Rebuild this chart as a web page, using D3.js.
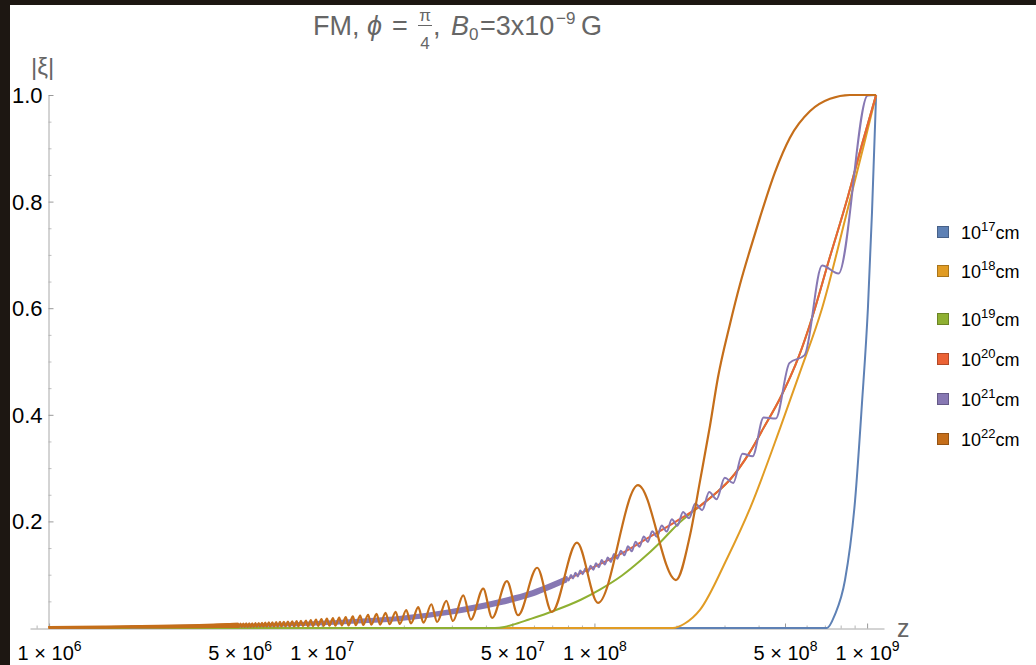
<!DOCTYPE html>
<html><head><meta charset="utf-8">
<script src="https://cdn.jsdelivr.net/npm/d3@7"></script>
<style>html,body{margin:0;padding:0;background:#1d1712;} svg{display:block;font-family:"Liberation Sans",Arial,Helvetica,sans-serif;}</style>
</head><body><svg id="chart" width="1036" height="665"></svg>
<script>
// ---------------- DATA (z given as log10 z, |xi| values) ----------------
const seriesNames = ["17", "18", "19", "20", "21", "22"]; // 10^n cm
const seriesColors = ["#5E81B5", "#E19C24", "#8FB032", "#EB6235", "#8778B3", "#C56E1A"];

const logZ17 = [6.0, 8.853, 8.882, 8.919, 8.956, 8.981, 9.003, 9.018, 9.033];
const xi17   = [0, 0, 0.025, 0.09, 0.24, 0.42, 0.60, 0.78, 1.0];

const logZ18 = [6.0, 8.288, 8.33, 8.387, 8.486, 8.571, 8.681, 8.754, 8.835, 8.926, 8.99, 9.033];
const xi18   = [0, 0, 0.008, 0.034, 0.13, 0.225, 0.375, 0.48, 0.60, 0.78, 0.91, 1.0];

const logZ19 = [6.0, 7.635, 7.67, 7.70, 7.76, 7.85, 7.95, 8.02, 8.10, 8.17, 8.24, 8.30, 8.39, 8.45, 8.50, 8.57, 8.62, 8.68, 8.75, 8.80, 8.86, 8.93, 8.98, 9.033];
const xi19   = [0, 0, 0.002, 0.006, 0.016, 0.032, 0.053, 0.072, 0.098, 0.127, 0.160, 0.192, 0.23, 0.255, 0.28, 0.33, 0.375, 0.43, 0.51, 0.585, 0.69, 0.81, 0.905, 1.0];

const logZ20 = [6.0, 6.37, 6.55, 6.74, 6.92, 7.10, 7.29, 7.47, 7.65, 7.76, 7.87, 8.02, 8.10, 8.20, 8.30, 8.39, 8.45, 8.50, 8.57, 8.62, 8.68, 8.75, 8.80, 8.86, 8.93, 8.98, 9.033];
const xi20   = [0.001, 0.0022, 0.0033, 0.005, 0.0075, 0.012, 0.018, 0.030, 0.048, 0.063, 0.085, 0.12, 0.14, 0.17, 0.20, 0.23, 0.255, 0.28, 0.33, 0.375, 0.43, 0.51, 0.585, 0.69, 0.81, 0.905, 1.0];

const logZ21 = [6.0, 6.37, 6.55, 6.74, 6.92, 7.10, 7.29, 7.47, 7.65, 7.76, 7.87,
  7.897, 7.905, 7.914, 7.922, 7.930, 7.939, 7.948, 7.957, 7.967, 7.976, 7.986, 7.996, 8.006, 8.016,
  8.027, 8.038, 8.049, 8.060, 8.072, 8.084, 8.097, 8.110, 8.123, 8.137, 8.151, 8.165, 8.181, 8.196,
  8.212, 8.229, 8.247, 8.265, 8.284, 8.304, 8.325, 8.347, 8.370, 8.395, 8.421, 8.448, 8.478, 8.509,
  8.543, 8.580, 8.6205, 8.665, 8.715, 8.771, 8.835, 8.895, 9.002, 9.033];
const xi21   = [0.001, 0.0022, 0.0033, 0.005, 0.0075, 0.012, 0.018, 0.030, 0.048, 0.063, 0.085,
  0.0953, 0.0892, 0.0993, 0.0931, 0.1035, 0.0966, 0.1077, 0.1008, 0.1120, 0.1047, 0.1170, 0.1094, 0.1217, 0.1140,
  0.1275, 0.1190, 0.1325, 0.1240, 0.1390, 0.1300, 0.1450, 0.1365, 0.1535, 0.1440, 0.1620, 0.1525, 0.1715, 0.1615,
  0.1815, 0.1710, 0.1925, 0.1810, 0.2040, 0.1920, 0.2175, 0.2060, 0.2335, 0.2210, 0.2550, 0.2415, 0.2820, 0.2720,
  0.3270, 0.3220, 0.3950, 0.3930, 0.4970, 0.5120, 0.6800, 0.6650, 0.999, 1.0];
// dense low-z oscillation of 10^21 cm: envelope of the band
const logZ21band = [6.3, 6.74, 6.92, 7.10, 7.29, 7.47, 7.65, 7.76, 7.897];
const xi21lo     = [0.001, 0.0035, 0.0055, 0.0095, 0.015, 0.0265, 0.044, 0.059, 0.0873];
const xi21hi     = [0.003, 0.0065, 0.0095, 0.0145, 0.021, 0.0335, 0.052, 0.067, 0.0953];

const logZ22 = [6.0, 6.2, 6.4, 6.55,
  6.692, 6.696, 6.7025, 6.7066, 6.713, 6.717, 6.723, 6.728, 6.734, 6.739, 6.745, 6.750, 6.757, 6.7615,
  6.769, 6.7735, 6.781, 6.786, 6.793, 6.798, 6.806, 6.811, 6.819, 6.8245, 6.833, 6.838, 6.847, 6.852,
  6.861, 6.867, 6.876, 6.882, 6.892, 6.898, 6.908, 6.914, 6.924, 6.931, 6.942, 6.949, 6.960, 6.9675,
  6.979, 6.987, 6.999, 7.007, 7.019, 7.028, 7.041, 7.050, 7.064, 7.0735, 7.088, 7.098, 7.114, 7.1245,
  7.141, 7.152, 7.170, 7.182, 7.201, 7.214, 7.234, 7.249, 7.271, 7.286, 7.310, 7.327, 7.354, 7.373,
  7.402, 7.423, 7.457, 7.481, 7.519, 7.547, 7.592, 7.625, 7.679, 7.720, 7.790, 7.844, 7.936, 8.013,
  8.160, 8.299, 8.351, 8.387, 8.424, 8.453, 8.497, 8.534, 8.571, 8.607, 8.662, 8.717, 8.791, 8.864, 8.937, 9.033];
const xi22   = [0.001, 0.0017, 0.0026, 0.0036,
  0.0080, 0.0019, 0.0082, 0.0020, 0.0084, 0.0020, 0.0085, 0.0021, 0.0086, 0.0021, 0.0089, 0.0021, 0.0091, 0.0022,
  0.0094, 0.0023, 0.0098, 0.0024, 0.0100, 0.0024, 0.0104, 0.0025, 0.0107, 0.0026, 0.0111, 0.0027, 0.0114, 0.0028,
  0.0117, 0.0028, 0.0121, 0.0029, 0.0125, 0.0030, 0.0128, 0.0031, 0.0133, 0.0033, 0.0141, 0.0035, 0.0149, 0.0037,
  0.0157, 0.0039, 0.0166, 0.0041, 0.0175, 0.0043, 0.0184, 0.0045, 0.0194, 0.0048, 0.0205, 0.0050, 0.0218, 0.0054,
  0.0233, 0.0057, 0.0248, 0.0061, 0.0266, 0.0065, 0.0284, 0.0070, 0.0304, 0.0075, 0.0338, 0.0086, 0.0390, 0.0099,
  0.0446, 0.0113, 0.0510, 0.0131, 0.0611, 0.0158, 0.0739, 0.0191, 0.0880, 0.0240, 0.1130, 0.0300, 0.1600, 0.0470,
  0.2680, 0.0900, 0.1750, 0.2750, 0.3800, 0.4700, 0.5700, 0.6450, 0.7100, 0.7700, 0.8550, 0.9200, 0.9700, 0.9930, 1.0, 1.0];
// dense low-z oscillation of 10^22 cm: envelope of the band
const logZ22band = [6.0, 6.2, 6.4, 6.55, 6.692];
const xi22lo     = [0.0004, 0.0007, 0.0010, 0.0014, 0.0019];
const xi22hi     = [0.0018, 0.0028, 0.0042, 0.0058, 0.0080];

const xMajorTicks = [1e6, 5e6, 1e7, 5e7, 1e8, 5e8, 1e9];
const xMinorTicks = [9e5, 2e6, 3e6, 4e6, 6e6, 7e6, 8e6, 9e6, 2e7, 3e7, 4e7, 6e7, 7e7, 8e7, 9e7, 2e8, 3e8, 4e8, 6e8, 7e8, 8e8, 9e8];
const yMajorTicks = [0.2, 0.4, 0.6, 0.8, 1.0];
const yMinorTicks = [0.05, 0.1, 0.15, 0.25, 0.3, 0.35, 0.45, 0.5, 0.55, 0.65, 0.7, 0.75, 0.85, 0.9, 0.95];

// ---------------- DRAW ----------------
const svg = d3.select('#chart');
svg.append('rect').attr('width', 1036).attr('height', 665).attr('fill', '#1d1712');
svg.append('rect').attr('x', 10).attr('y', 5).attr('width', 1026).attr('height', 660).attr('fill', '#ffffff');

const x = d3.scaleLog().domain([Math.pow(10, 5.93), Math.pow(10, 9.062)]).range([30, 884]);
const y = d3.scaleLinear().domain([0, 1]).range([628, 95]);
const x0 = 48.5, y0 = 628.5;

const toPts = (lz, v) => lz.map((e, i) => ({ z: Math.pow(10, e), v: v[i] }));

// axes
function styleAxis(g) {
  g.attr('font-family', null).attr('font-size', null);
  g.select('.domain').attr('stroke', '#a8a8a8').attr('stroke-width', 1);
}
const gxMinor = svg.append('g').attr('transform', `translate(0,${y0})`)
  .call(d3.axisBottom(x).tickValues(xMinorTicks).tickSizeInner(-3).tickSizeOuter(0).tickFormat(''));
gxMinor.select('.domain').remove();
gxMinor.selectAll('.tick line').attr('stroke', '#b5b5b5');

const gx = svg.append('g').attr('transform', `translate(0,${y0})`)
  .call(d3.axisBottom(x).tickValues(xMajorTicks).tickSizeInner(-5).tickSizeOuter(0));
styleAxis(gx);
gx.selectAll('.tick line').attr('stroke', '#999');
gx.selectAll('.tick text').each(function (d) {
  const ex = Math.floor(Math.log10(d) + 1e-9);
  const m = Math.round(d / Math.pow(10, ex));
  const t = d3.select(this).text(null).attr('y', 31).attr('dy', null)
    .attr('font-size', 20).attr('fill', '#000').attr('text-anchor', 'middle');
  t.append('tspan').text(`${m} \u00d7 10`);
  t.append('tspan').attr('dy', -9).attr('font-size', 14).text(ex);
});

const gyMinor = svg.append('g').attr('transform', `translate(${x0},0)`)
  .call(d3.axisLeft(y).tickValues(yMinorTicks).tickSizeInner(-3).tickSizeOuter(0).tickFormat(''));
gyMinor.select('.domain').remove();
gyMinor.selectAll('.tick line').attr('stroke', '#c0c0c0');

const gy = svg.append('g').attr('transform', `translate(${x0},0)`)
  .call(d3.axisLeft(y).tickValues(yMajorTicks).tickSizeInner(-5).tickSizeOuter(0).tickPadding(6).tickFormat(d3.format('.1f')));
styleAxis(gy);
gy.selectAll('.tick line').attr('stroke', '#999');
gy.selectAll('.tick text').attr('font-size', 22).attr('fill', '#000').attr('dy', '0.34em');

// curves
const line = d3.line().x(d => x(d.z)).y(d => y(d.v)).curve(d3.curveMonotoneX);
const area = d3.area().x(d => x(d.z)).y0(d => y(d.lo)).y1(d => y(d.hi)).curve(d3.curveMonotoneX);
const plot = svg.append('g');

const series = [
  toPts(logZ17, xi17), toPts(logZ18, xi18), toPts(logZ19, xi19),
  toPts(logZ20, xi20), toPts(logZ21, xi21), toPts(logZ22, xi22)
];
const bands = {
  4: logZ21band.map((e, i) => ({ z: Math.pow(10, e), lo: xi21lo[i], hi: xi21hi[i] })),
  5: logZ22band.map((e, i) => ({ z: Math.pow(10, e), lo: xi22lo[i], hi: xi22hi[i] }))
};
series.forEach((pts, i) => {
  if (bands[i]) {
    plot.append('path').attr('d', area(bands[i])).attr('fill', seriesColors[i]).attr('stroke', seriesColors[i]).attr('stroke-width', 2);
  }
  plot.append('path').attr('d', line(pts)).attr('fill', 'none')
    .attr('stroke', seriesColors[i]).attr('stroke-width', i === 5 ? 2.2 : 2).attr('stroke-linejoin', 'round');
});

// axis labels
svg.append('text').attr('x', 31).attr('y', 75).attr('font-size', 24).attr('fill', '#666').text('|\u03be|');
svg.append('text').attr('x', 897).attr('y', 637).attr('font-size', 25).attr('fill', '#666').text('z');

// title
const tc = '#666';
const title = svg.append('g').attr('fill', tc);
title.append('text').attr('x', 313).attr('y', 35).attr('font-size', 27).text('FM,');
title.append('text').attr('x', 367).attr('y', 35).attr('font-size', 27).attr('font-style', 'italic').text('\u03d5');
title.append('text').attr('x', 392).attr('y', 35).attr('font-size', 27).text('=');
title.append('text').attr('x', 425).attr('y', 21).attr('font-size', 17).attr('text-anchor', 'middle').text('\u03c0');
title.append('line').attr('x1', 418).attr('x2', 432).attr('y1', 25.5).attr('y2', 25.5).attr('stroke', tc).attr('stroke-width', 1);
title.append('text').attr('x', 425).attr('y', 49).attr('font-size', 17).attr('text-anchor', 'middle').text('4');
title.append('text').attr('x', 433).attr('y', 35).attr('font-size', 27).text(',');
title.append('text').attr('x', 451).attr('y', 35).attr('font-size', 27).attr('font-style', 'italic').text('B');
title.append('text').attr('x', 469).attr('y', 40).attr('font-size', 17).text('0');
title.append('text').attr('x', 480).attr('y', 35).attr('font-size', 27).text('=3x10');
title.append('text').attr('x', 556).attr('y', 24).attr('font-size', 17).text('\u22129');
title.append('text').attr('x', 581).attr('y', 35).attr('font-size', 27).text('G');

// legend
const legendRowY = [232, 271, 319, 359, 399, 439];
const lg = svg.append('g');
seriesNames.forEach((n, i) => {
  const cy = legendRowY[i];
  lg.append('rect').attr('x', 937.5).attr('y', cy - 5.5).attr('width', 11).attr('height', 11)
    .attr('fill', seriesColors[i]).attr('stroke', d3.color(seriesColors[i]).darker(0.8)).attr('stroke-width', 1);
  const t = lg.append('text').attr('x', 961).attr('y', cy + 7).attr('font-size', 18).attr('fill', '#000');
  t.append('tspan').text('10');
  t.append('tspan').attr('dy', -8).attr('font-size', 13).text(n);
  t.append('tspan').attr('dy', 8).text('cm');
});
</script></body></html>
